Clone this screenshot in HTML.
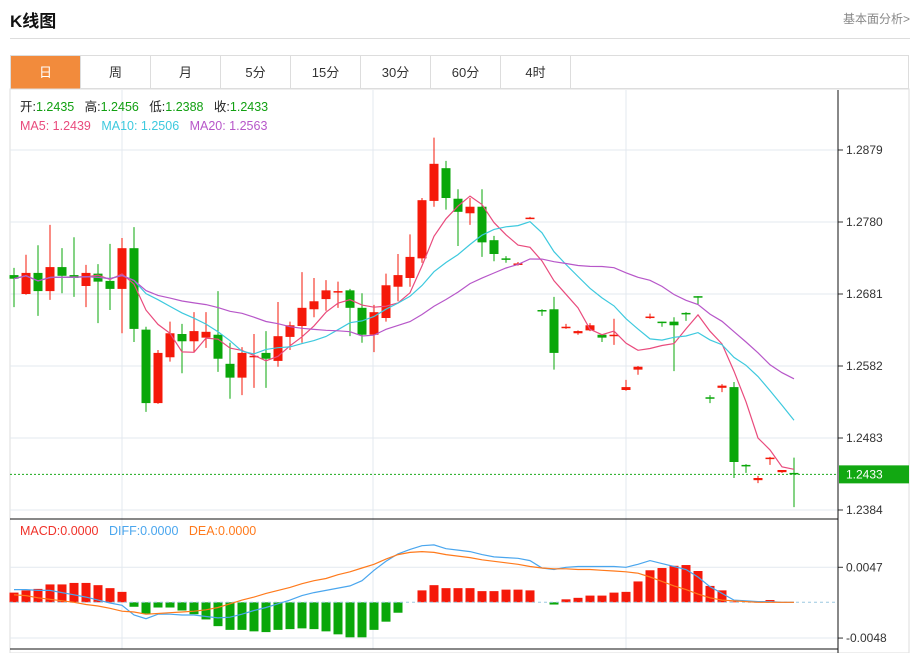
<!DOCTYPE html>
<html><head><meta charset="utf-8">
<style>
body{margin:0;background:#fff;width:915px;height:653px;overflow:hidden;font-family:"Liberation Sans","Noto Sans CJK SC",sans-serif;}
#root{position:relative;width:915px;height:653px;}
.title{position:absolute;left:10px;top:7px;font-size:17px;font-weight:bold;color:#111;}
.more{position:absolute;left:843px;top:10px;font-size:12px;color:#888;}
.hr{position:absolute;left:10px;top:38px;width:900px;height:1px;background:#ddd;}
.tabs{position:absolute;left:10px;top:55px;width:899px;height:34px;border:1px solid #ddd;box-sizing:border-box;display:flex;}
.tab{width:70px;height:33px;line-height:33px;text-align:center;font-size:13px;color:#333;border-right:1px solid #ddd;box-sizing:border-box;}
.tab.on{background:#f28b3c;color:#fff;}
svg{position:absolute;left:0;top:0;}
</style></head>
<body><div id="root">
<div class="title">K线图</div>
<div class="more">基本面分析&gt;</div>
<div class="hr"></div>
<div class="tabs">
<div class="tab on">日</div>
<div class="tab">周</div>
<div class="tab">月</div>
<div class="tab">5分</div>
<div class="tab">15分</div>
<div class="tab">30分</div>
<div class="tab">60分</div>
<div class="tab">4时</div>
</div>
<svg id="chart" width="915" height="653"></svg>
</div>
<script>
const opens=[1.2707,1.2681,1.2710,1.2685,1.2718,1.2707,1.2692,1.2709,1.2699,1.2688,1.2744,1.2632,1.2531,1.2594,1.2626,1.2616,1.2621,1.2625,1.2585,1.2566,1.2594,1.2600,1.2589,1.2622,1.2637,1.2660,1.2674,1.2684,1.2686,1.2662,1.2625,1.2648,1.2691,1.2703,1.2730,1.2809,1.2854,1.2812,1.2792,1.2801,1.2755,1.2730,1.2722,1.2785,1.2659,1.2660,1.2635,1.2627,1.2631,1.2625,1.2623,1.2549,1.2577,1.2648,1.2643,1.2643,1.2655,1.2678,1.2539,1.2552,1.2553,1.2446,1.2425,1.2454,1.2436,1.2435];
const closes=[1.2702,1.2710,1.2685,1.2718,1.2706,1.2703,1.2710,1.2698,1.2688,1.2744,1.2633,1.2531,1.2600,1.2627,1.2616,1.2630,1.2629,1.2592,1.2566,1.2600,1.2596,1.2592,1.2623,1.2638,1.2662,1.2671,1.2686,1.2685,1.2662,1.2625,1.2656,1.2693,1.2707,1.2732,1.2810,1.2860,1.2813,1.2794,1.2801,1.2752,1.2736,1.2729,1.2723,1.2786,1.2658,1.2600,1.2636,1.2630,1.2638,1.2621,1.2625,1.2553,1.2581,1.2650,1.2642,1.2638,1.2654,1.2677,1.2538,1.2555,1.2450,1.2444,1.2428,1.2456,1.2439,1.2433];
const highs=[1.2717,1.2735,1.2748,1.2776,1.2744,1.2759,1.2721,1.2722,1.2750,1.2758,1.2773,1.2636,1.2604,1.2643,1.2640,1.2656,1.2656,1.2685,1.2614,1.2608,1.2626,1.2630,1.2670,1.2643,1.2711,1.2703,1.2700,1.2698,1.2688,1.2682,1.2666,1.2709,1.2736,1.2763,1.2813,1.2896,1.2864,1.2825,1.2813,1.2825,1.2761,1.2733,1.2725,1.2787,1.2660,1.2677,1.2640,1.2631,1.2641,1.2626,1.2647,1.2563,1.2582,1.2654,1.2643,1.2649,1.2656,1.2678,1.2542,1.2557,1.2560,1.2447,1.2431,1.2457,1.2439,1.2456];
const lows=[1.2663,1.2680,1.2651,1.2673,1.2682,1.2677,1.2663,1.2641,1.2659,1.2627,1.2615,1.2519,1.2530,1.2588,1.2572,1.2601,1.2607,1.2574,1.2537,1.2542,1.2552,1.2552,1.2581,1.2604,1.2614,1.2649,1.2658,1.2662,1.2623,1.2614,1.2601,1.2643,1.2671,1.2691,1.2724,1.2801,1.2797,1.2747,1.2776,1.2732,1.2726,1.2724,1.2720,1.2784,1.2651,1.2577,1.2633,1.2625,1.2630,1.2615,1.2611,1.2548,1.2570,1.2647,1.2636,1.2575,1.2644,1.2666,1.2531,1.2546,1.2428,1.2435,1.2421,1.2446,1.2435,1.2388];
const priceTicks=["1.2879","1.2780","1.2681","1.2582","1.2483","1.2384"];
const macdHist=[0.0013,0.0016,0.0018,0.0024,0.0024,0.0026,0.0026,0.0023,0.0019,0.0014,-0.0006,-0.0015,-0.0007,-0.0007,-0.0011,-0.0016,-0.0023,-0.0032,-0.0037,-0.0037,-0.0039,-0.0040,-0.0037,-0.0036,-0.0035,-0.0036,-0.0039,-0.0043,-0.0047,-0.0047,-0.0037,-0.0026,-0.0014,0.0000,0.0016,0.0023,0.0019,0.0019,0.0019,0.0015,0.0015,0.0017,0.0017,0.0016,0.0000,-0.0003,0.0004,0.0006,0.0009,0.0009,0.0013,0.0014,0.0028,0.0043,0.0046,0.0049,0.0050,0.0042,0.0022,0.0016,0.0001,0.0000,0.0000,0.0003,0.0000,0.0000];
const diffVals=[0.0017,0.0017,0.0016,0.0016,0.0013,0.0010,0.0007,0.0003,-0.0001,-0.0004,-0.0017,-0.0022,-0.0016,-0.0016,-0.0017,-0.0017,-0.0019,-0.0021,-0.0020,-0.0016,-0.0011,-0.0007,-0.0002,0.0003,0.0009,0.0013,0.0016,0.0019,0.0022,0.0029,0.0043,0.0055,0.0065,0.0071,0.0076,0.0077,0.0072,0.0070,0.0068,0.0064,0.0061,0.0060,0.0059,0.0056,0.0046,0.0044,0.0047,0.0048,0.0048,0.0048,0.0048,0.0047,0.0051,0.0056,0.0052,0.0048,0.0044,0.0034,0.0021,0.0012,0.0003,0.0002,0.0001,0.0001,0.0000,0.0000];
const deaVals=[0.0010,0.0009,0.0006,0.0004,0.0002,0.0000,-0.0003,-0.0005,-0.0008,-0.0012,-0.0013,-0.0016,-0.0015,-0.0014,-0.0013,-0.0012,-0.0010,-0.0007,-0.0002,0.0003,0.0007,0.0012,0.0016,0.0020,0.0025,0.0029,0.0032,0.0037,0.0041,0.0046,0.0051,0.0058,0.0064,0.0067,0.0068,0.0067,0.0064,0.0062,0.0060,0.0057,0.0055,0.0053,0.0051,0.0048,0.0046,0.0045,0.0045,0.0044,0.0044,0.0043,0.0042,0.0041,0.0039,0.0034,0.0028,0.0022,0.0017,0.0011,0.0006,0.0003,0.0002,0.0001,0.0000,0.0000,0.0000,0.0000];
const macdTicks=[0.0047,-0.0048];

const svg=document.getElementById('chart');
const NS='http://www.w3.org/2000/svg';
const X0=14,DX=12,RIGHT=838;
function xC(i){return X0+i*DX;}
function yP(p){return 150+(1.2879-p)*7272.7;}
function yM(v){return 602.3-v*7450;}
function mk(tag,attrs){const e=document.createElementNS(NS,tag);for(const k in attrs)e.setAttribute(k,attrs[k]);svg.appendChild(e);return e;}
function txt(x,y,s,fill,size,anchor){const e=mk('text',{x:x,y:y,fill:fill,'font-size':size||12,'text-anchor':anchor||'start','font-family':'Liberation Sans, Noto Sans CJK SC, sans-serif'});e.textContent=s;return e;}

// frame & grid
let g;
g=mk('rect',{x:10,y:89,width:899,height:564,fill:'none',stroke:'#ddd'});


priceTicks.forEach(t=>{const y=yP(parseFloat(t));
 const l=mk('line',{x1:10,x2:RIGHT,y1:y,y2:y,stroke:'#e3e9ef'});
 
 
 const tk=mk('line',{x1:RIGHT,x2:RIGHT+5,y1:y,y2:y,stroke:'#333'});
 
 
 const tx=txt(RIGHT+8,y+4,t,'#333',12);
 
 
});
[122,373,626].forEach(x=>{const l=mk('line',{x1:x,x2:x,y1:90,y2:649,stroke:'#e3e9ef'});
 
 });
macdTicks.forEach(v=>{const y=yM(v);
 const l=mk('line',{x1:10,x2:RIGHT,y1:y,y2:y,stroke:'#e3e9ef'});
 
 
 const tk=mk('line',{x1:RIGHT,x2:RIGHT+5,y1:y,y2:y,stroke:'#333'});
 
 
 const tx=txt(RIGHT+8,y+4,v.toFixed(4),'#333',12);
 
 
});
g=mk('line',{x1:10,x2:RIGHT,y1:519,y2:519,stroke:'#111'});


g=mk('line',{x1:10,x2:RIGHT,y1:649,y2:649,stroke:'#111'});


g=mk('line',{x1:RIGHT,x2:RIGHT,y1:90,y2:653,stroke:'#111'});



// candles
const UP='#f5190a',DN='#0aa70a';
for(let i=0;i<closes.length;i++){
 const x=xC(i),up=closes[i]>=opens[i],c=up?UP:DN;
 const w=mk('line',{x1:x,x2:x,y1:yP(highs[i]),y2:yP(lows[i]),stroke:c,'stroke-width':1});
 
 
 const t=Math.min(yP(opens[i]),yP(closes[i])),h=Math.max(1.5,Math.abs(yP(opens[i])-yP(closes[i])));
 const b=mk('rect',{x:x-4.5,y:t,width:9,height:h,fill:c});
 
 
}
// MAs
function ma(n){return closes.map((_,i)=>{const s=Math.max(0,i-n+1);let a=0;for(let k=s;k<=i;k++)a+=closes[k];return a/(i-s+1);});}
[[5,'#e94b7d','ma5-line'],[10,'#3dc9de','ma10-line'],[20,'#b757c9','ma20-line']].forEach(([n,c,name])=>{
 const pts=ma(n).map((v,i)=>xC(i)+','+yP(v).toFixed(1)).join(' ');
 const p=mk('polyline',{points:pts,fill:'none',stroke:c,'stroke-width':1.2});
 
 
});
// current price
const last=closes[closes.length-1],ly=yP(last);
g=mk('line',{x1:10,x2:RIGHT,y1:ly,y2:ly,stroke:'#1aaa1a','stroke-dasharray':'2,2'});


g=mk('rect',{x:RIGHT+1,y:ly-9,width:70,height:18,fill:'#12a812'});


g=txt(RIGHT+8,ly+4,last.toFixed(4),'#fff',12);



// MACD
for(let i=0;i<macdHist.length;i++){
 const v=macdHist[i];if(Math.abs(v)<0.00005)continue;
 const y0=yM(0),y1=yM(v);
 const r=mk('rect',{x:xC(i)-4.5,y:Math.min(y0,y1),width:9,height:Math.abs(y1-y0),fill:v>0?UP:DN});
 
 
}
g=mk('line',{x1:10,x2:RIGHT,y1:yM(0),y2:yM(0),stroke:'#9cc8e0','stroke-dasharray':'3,3'});


[[diffVals,'#4aa6ee','diff-line'],[deaVals,'#ff7a1c','dea-line']].forEach(([arr,c,name])=>{
 const pts=arr.map((v,i)=>xC(i)+','+yM(v).toFixed(1)).join(' ');
 const p=mk('polyline',{points:pts,fill:'none',stroke:c,'stroke-width':1.2});
 
 
});

// legends
function leg(parts,y,name){const t=mk('text',{x:20,y:y,'font-size':12.5,'font-family':'Liberation Sans, Noto Sans CJK SC, sans-serif'});
 
 
 parts.forEach(([s,c])=>{const sp=document.createElementNS(NS,'tspan');sp.setAttribute('fill',c);sp.textContent=s;t.appendChild(sp);});}
leg([['开:','#222'],['1.2435   ','#12a012'],['高:','#222'],['1.2456   ','#12a012'],['低:','#222'],['1.2388   ','#12a012'],['收:','#222'],['1.2433','#12a012']],111,'ohlc-legend');
leg([['MA5: 1.2439   ','#e94b7d'],['MA10: 1.2506   ','#3dc9de'],['MA20: 1.2563','#b757c9']],130,'ma-legend');
leg([['MACD:0.0000   ','#f0322a'],['DIFF:0.0000   ','#4aa6ee'],['DEA:0.0000','#ff7a1c']],535,'macd-legend');
document.querySelectorAll('#chart text').forEach(t=>t.setAttribute('xml:space','preserve'));
document.querySelectorAll('#chart text').forEach(t=>t.style.whiteSpace='pre');
</script>
</body></html>
